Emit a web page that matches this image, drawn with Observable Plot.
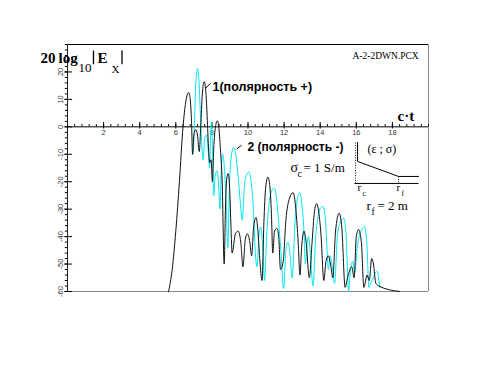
<!DOCTYPE html>
<html><head><meta charset="utf-8">
<script src="https://cdn.jsdelivr.net/npm/d3@7"></script>
<script src="https://cdn.jsdelivr.net/npm/@observablehq/plot@0.6"></script>
<style>body{margin:0;background:#fff}</style>
</head><body><div id="chart"></div>
<script>
// Curve 1 (polarity +), black
const blackX = [5.6,5.8,6.0,6.2,6.4,6.55,6.65,6.72,6.8,6.87,6.93,7.0,7.1,7.2,7.3,7.38,7.47,7.57,7.65,7.73,7.8,7.88,7.95,8.03,8.1,8.2,8.3,8.38,8.47,8.57,8.68,8.75,8.82,8.9,8.98,9.05,9.12,9.3,9.45,9.6,9.72,9.85,9.97,10.1,10.2,10.32,10.45,10.55,10.65,10.78,10.88,10.98,11.1,11.2,11.3,11.37,11.47,11.6,11.7,11.8,11.95,12.1,12.3,12.5,12.65,12.78,12.88,12.97,13.1,13.22,13.4,13.55,13.68,13.8,13.92,14.05,14.2,14.32,14.45,14.57,14.7,14.85,15.05,15.2,15.38,15.55,15.75,15.88,16.0,16.12,16.28,16.42,16.6,16.72,16.85,16.95,17.08,17.25,18.4];
const blackY = [-60,-52,-38,-20,0,9,12,12.5,10,2,-10,-3,-1,-3,-9,0,12,16.5,14,5,-6,-13,-12,-20,-8,0,2.2,0,-8,-20,-50,-30,-19,-17,-22,-35,-46,-39,-38,-42,-51,-41,-39,-42,-47,-36,-33,-38,-48,-56,-35,-22,-18.3,-21,-32,-46,-38,-37,-40,-52,-49,-34,-26,-24,-30,-42,-54,-44,-38,-42,-55,-42,-31,-28,-31,-40,-56,-49,-47,-50,-55,-38,-31.5,-37,-58.5,-54,-51,-55,-40,-37.4,-42,-58.5,-54,-56,-48,-50,-57,-58,-60];
// Curve 2 (polarity -), cyan
const cyanX = [6.93,6.98,7.05,7.12,7.2,7.28,7.36,7.45,7.52,7.6,7.7,7.8,7.87,7.93,7.98,8.03,8.1,8.18,8.28,8.38,8.45,8.52,8.6,8.68,8.78,8.88,8.97,9.07,9.2,9.32,9.45,9.58,9.68,9.8,9.92,10.05,10.17,10.3,10.4,10.5,10.6,10.7,10.8,10.92,11.03,11.15,11.3,11.45,11.58,11.7,11.82,11.97,12.1,12.22,12.32,12.45,12.6,12.72,12.85,12.98,13.1,13.18,13.28,13.35,13.45,13.6,13.75,13.9,14.02,14.15,14.28,14.38,14.45,14.55,14.65,14.8,14.95,15.1,15.3,15.42,15.5,15.57,15.68,15.8,15.92,16.05,16.25,16.45,16.58,16.7,16.8,16.95,17.07,17.17,17.25,17.32];
const cyanY = [-10,-8,5,17,21.2,17,5,-8,-12,-4,-3,-9,-15,-3,1.5,-8,-25,-18,-16,-22,-30,-15,-10,-14,-26,-44,-22,-11,-7.5,-10,-18,-28,-34,-22,-17.5,-16.5,-20,-30,-45,-51,-40,-36.5,-42,-56,-40,-29,-23.5,-22.3,-26,-35,-45,-59,-45,-42,-46,-55,-35,-27,-24,-28,-38,-50,-42,-40,-46,-58,-40,-32,-29.5,-29,-33,-45,-52,-47,-50,-57,-40,-35,-33.4,-38,-50,-60,-52,-49,-53,-44,-38,-36.5,-42,-58.5,-57,-55,-53,-52.7,-56,-58.5];

const xTickValues = [2,4,6,8,10,12,14,16,18];
const xTickLabels = ["2","4","6","8","10","12","14","16","18"];
const yTickValues = [20,10,0,-10,-20,-30,-40,-50,-60];
const yTickLabels = ["20","10","0","-10","-20","-30","-40","-50","-60"];

// inset sketch of the (ε ; σ) profile, in chart units
const insetProfileX = [16.07,16.07,18.34,19.45];
const insetProfileY = [-5.69,-12.61,-18.08,-18.08];

const black = blackX.map((x,i)=>({x, y: blackY[i]}));
const cyan = cyanX.map((x,i)=>({x, y: cyanY[i]}));
const profile = insetProfileX.map((x,i)=>({x, y: insetProfileY[i]}));
const xTicks = xTickValues.map((v,i)=>({v, t: xTickLabels[i]}));
const yTicks = yTickValues.map((v,i)=>({v, t: yTickLabels[i]}));
const minorX = d3.range(0, 20.001, 0.4).map(v=>+v.toFixed(2));
const minorY = d3.range(-60, 30.001, 2);

const serif = "Liberation Serif, Times New Roman, serif";
const sans = "Liberation Sans, Arial, sans-serif";
function note(t, px, py, o = {}) {
  return Plot.text([{x: 0, y: 30, t}], {x: "x", y: "y", text: "t", dx: px - 67, dy: py - 44,
    textAnchor: "start", lineAnchor: "bottom", fill: "#000", fontFamily: serif, ...o});
}
const seg = (a) => Plot.link(a, {x1: "x1", y1: "y1", x2: "x2", y2: "y2", stroke: "#000"});

const chart = Plot.plot({
  width: 485, height: 365,
  marginLeft: 67, marginRight: 57, marginTop: 44, marginBottom: 74,
  x: {domain: [0, 20], axis: null},
  y: {domain: [-60, 30], axis: null},
  style: {background: "#fff", overflow: "visible"},
  marks: [
    // frame
    Plot.ruleY([30], {stroke: "#000", strokeWidth: 1}),
    Plot.ruleX([20], {stroke: "#888", strokeWidth: 1}),
    Plot.ruleY([-60], {stroke: "#888", strokeWidth: 1.2}),
    Plot.ruleX([0], {stroke: "#222", strokeWidth: 1}),
    // x axis at y = 0
    Plot.ruleY([0], {stroke: "#000", strokeWidth: 1}),
    Plot.ruleX(minorX, {x: d => d, y1: 0, y2: 0.8, stroke: "#000"}),
    Plot.ruleX(xTickValues, {x: d => d, y1: -0.8, y2: 1.6, stroke: "#000"}),
    Plot.text(xTicks, {x: "v", y: 0, text: "t", dy: 2.5, lineAnchor: "top", fontSize: 7.5, fontFamily: sans, fill: "#333"}),
    // y axis
    Plot.ruleY(minorY, {y: d => d, x1: -0.12, x2: 0, stroke: "#000"}),
    Plot.ruleY(yTickValues, {y: d => d, x1: -0.15, x2: 0.28, stroke: "#000"}),
    Plot.text(yTicks, {x: 0, y: "v", text: "t", dx: -7, rotate: -90, fontSize: 7.5, fontFamily: sans, fill: "#333"}),
    // curves
    Plot.line(cyan, {x: "x", y: "y", stroke: "#00e8f2", strokeWidth: 1, curve: "monotone-x"}),
    Plot.line(black, {x: "x", y: "y", stroke: "#111", strokeWidth: 1, curve: "monotone-x"}),
    // leaders
    seg([{x1: 7.64, y1: 14, x2: 7.92, y2: 15.8}]),
    seg([{x1: 9.36, y1: -8.1, x2: 9.64, y2: -6.7}]),
    // |E_x| bars of the title
    Plot.link([{x1: 1.44, y1: 27.8, x2: 1.44, y2: 22.8}, {x1: 3.02, y1: 27.8, x2: 3.02, y2: 22.8}],
      {x1: "x1", y1: "y1", x2: "x2", y2: "y2", stroke: "#000", strokeWidth: 1.3}),
    // inset
    Plot.line(profile, {x: "x", y: "y", stroke: "#000", strokeWidth: 1}),
    Plot.link([{x1: 15.96, y1: -5.69, x2: 15.96, y2: -20.63}, {x1: 18.34, y1: -18.08, x2: 18.34, y2: -20.63}],
      {x1: "x1", y1: "y1", x2: "x2", y2: "y2", stroke: "#000", strokeDasharray: "1,1.5"}),
    seg([{x1: 15.9, y1: -20.63, x2: 19.45, y2: -20.63}]),
    // texts
    note("20", 40, 62, {fontWeight: "bold", fontSize: 15}),
    note("log", 58, 62, {fontWeight: "bold", fontSize: 15}),
    note("10", 78, 71, {fontSize: 13}),
    note("E", 97, 62, {fontWeight: "bold", fontSize: 15}),
    note("X", 111, 72, {fontSize: 11}),
    note("A-2-2DWN.PCX", 352, 58, {fontSize: 9.5}),
    note("c·t", 397, 120, {fontWeight: "bold", fontSize: 15}),
    note("1(полярность +)", 212, 90, {fontFamily: sans, fontWeight: "bold", fontSize: 12.5}),
    note("2 (полярность -)", 247, 150, {fontFamily: sans, fontWeight: "bold", fontSize: 12}),
    note("σ", 290, 171, {fontSize: 14}),
    note("c", 297, 176, {fontSize: 10}),
    note("= 1 S/m", 303, 171, {fontSize: 13}),
    note("(ε ; σ)", 367, 152, {fontSize: 12}),
    note("r", 357, 190, {fontSize: 11}),
    note("c", 362, 195, {fontSize: 7.5}),
    note("r", 396, 190, {fontSize: 11}),
    note("f", 401, 195, {fontSize: 7.5}),
    note("r", 366, 209, {fontSize: 13.5}),
    note("f", 371, 214, {fontSize: 9.5}),
    note("= 2 m", 377, 209, {fontSize: 13})
  ]
});
document.getElementById("chart").append(chart);
</script>
</body></html>
